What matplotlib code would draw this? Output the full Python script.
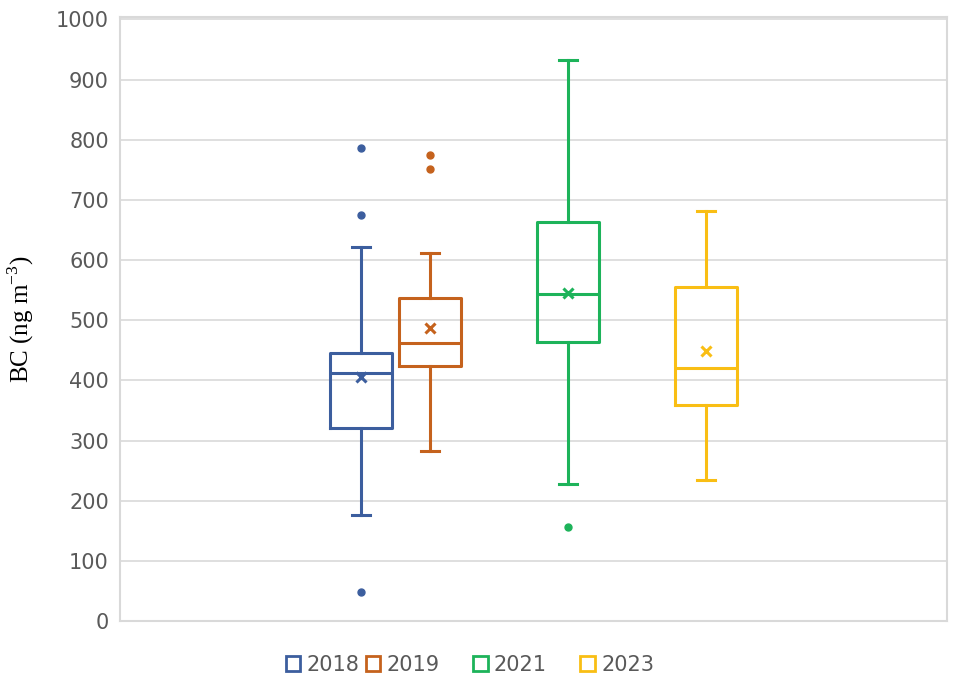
import numpy as np
import matplotlib.pyplot as plt
from matplotlib.patches import Patch

plt.rcParams['mathtext.fontset'] = 'custom'
plt.rcParams['mathtext.rm'] = 'Liberation Serif'

# -----------------------------------------------------------
# Data (BC, ng m-3)
# -----------------------------------------------------------
years = ['2018', '2019', '2020', '2021', '2022', '2023']   # 2020, 2022 empty
colors = ['#3C5E9E', '#C5621D', None, '#1DB35A', None, '#F9BE14']

q1 = [321, 424, None, 464, None, 359]
median = [413, 462, None, 544, None, 421]
q3 = [446, 537, None, 664, None, 556]
mean = [406, 487, None, 545, None, 449]
whis_lo = [176, 283, None, 228, None, 235]
whis_hi = [622, 611, None, 933, None, 682]
fliers = [[787, 675, 48], [775, 752], [], [156], [], []]

# -----------------------------------------------------------
# Figure
# -----------------------------------------------------------
fig = plt.figure(figsize=(9.59, 6.89), dpi=100)
ax = fig.add_axes([120/959, (689-621)/689, 827/959, (621-17)/689])

for i, yr in enumerate(years):
    if q1[i] is None:
        continue
    c = colors[i]
    st = dict(q1=q1[i], med=median[i], q3=q3[i], mean=mean[i],
              whislo=whis_lo[i], whishi=whis_hi[i], fliers=fliers[i])
    ax.bxp([st], positions=[i], widths=0.9, showmeans=True, capwidths=0.26,
           boxprops=dict(color=c, lw=2.2),
           medianprops=dict(color=c, lw=2.2),
           whiskerprops=dict(color=c, lw=2.2),
           capprops=dict(color=c, lw=2.2),
           meanprops=dict(marker='x', markeredgecolor=c, markersize=7, mew=2.2),
           flierprops=dict(marker='o', markerfacecolor=c, markeredgecolor=c,
                           markersize=5))

ax.set_xlim(-3.48, 8.48)
ax.set_ylim(0, 1004)
ax.set_xticks([])
ax.set_yticks(np.arange(0, 1001, 100))
ax.tick_params(axis='y', length=0, pad=8, labelsize=15, labelcolor='#595959')
ax.grid(axis='y', color='#d9d9d9', lw=1.2)
ax.set_axisbelow(True)
for s in ax.spines.values():
    s.set_color('#d9d9d9')
    s.set_linewidth(1.5)

ax.set_ylabel('BC (ng m$^{\\mathregular{-3}}$)', fontfamily='Liberation Serif',
              fontsize=18, labelpad=14, color='black')

# legend keeps empty slots for 2020 and 2022, like the original
handles = []
for i in range(len(years)):
    if colors[i] is None:
        handles.append(Patch(facecolor='none', edgecolor='none', label=''))
    else:
        handles.append(Patch(facecolor='white', edgecolor=colors[i], lw=2,
                             label=years[i]))
fig.legend(handles=handles, labels=[h.get_label() for h in handles],
           loc='center', bbox_to_anchor=(470/959, 1 - 665/689),
           ncol=6, frameon=False, fontsize=15, handlelength=0.7, handleheight=0.7,
           handletextpad=0.3, columnspacing=0.3, labelcolor='#595959')

fig.savefig('out.png', dpi=100)
